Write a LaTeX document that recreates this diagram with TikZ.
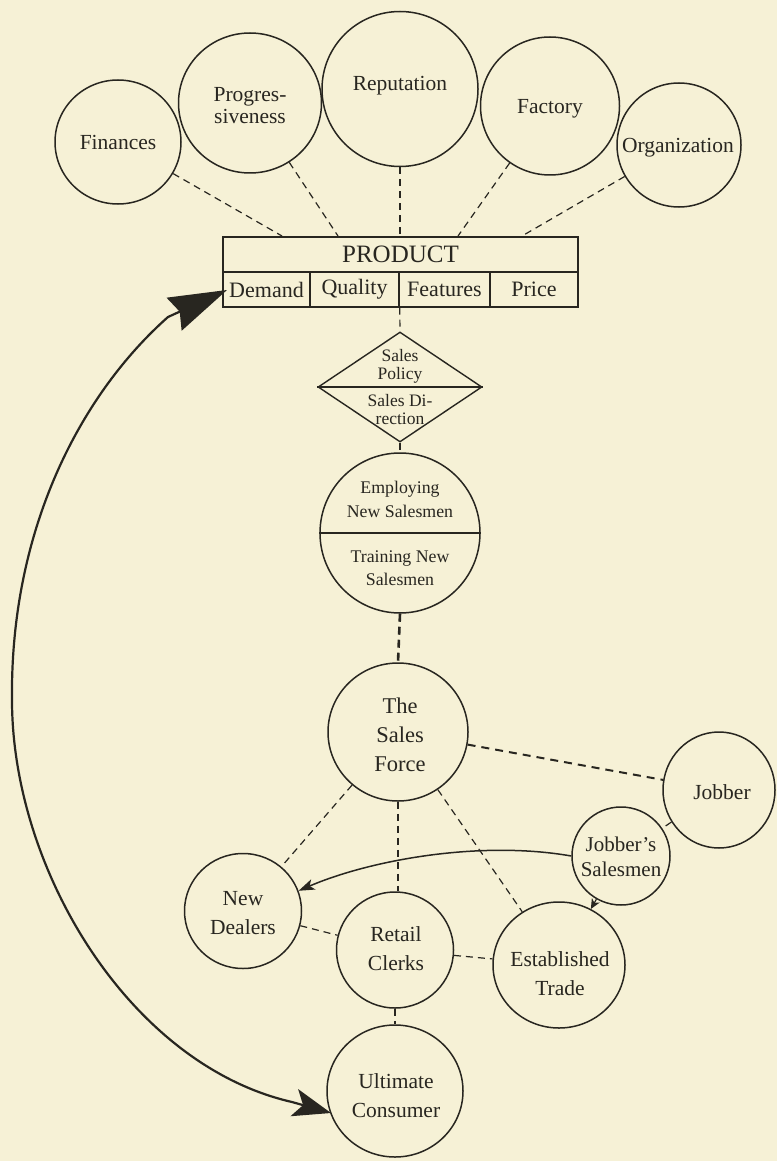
\documentclass[tikz,border=0pt]{standalone}
\usepackage{fontspec}
\setmainfont{Liberation Serif}
\usetikzlibrary{shapes.geometric,arrows.meta}
\definecolor{bgc}{RGB}{246,241,214}
\definecolor{ink}{RGB}{40,38,32}
\begin{document}
\begin{tikzpicture}[x=1pt,y=-1pt,
  every node/.style={text=ink},
  circ/.style={ellipse,draw=ink,line width=1.5pt,inner sep=0pt},
  txt/.style={inner sep=0pt,align=center,font=\fontsize{21.5pt}{29pt}\selectfont},
  cell/.style={rectangle,draw=ink,line width=1.4pt,inner sep=0pt,minimum height=35pt,font=\fontsize{22pt}{26pt}\selectfont},
  dsh/.style={draw=ink,line width=1.2pt,dash pattern=on 7pt off 5pt},
  thickdsh/.style={draw=ink,line width=2.6pt,dash pattern=on 8pt off 5pt},
  arc/.style={draw=ink,line width=1.5pt}]

\fill[bgc] (0,0) rectangle (777,1161);
\useasboundingbox (0,0) rectangle (777,1161);

% top circles
\node[circ,minimum width=126pt,minimum height=124pt] (fin) at (118,142) {};
\node[txt] (fint) at (fin) {Finances};
\node[circ,minimum width=143pt,minimum height=140pt] (prog) at (250,103) {};
\node[txt,font=\fontsize{21.5pt}{22pt}\selectfont] (progt) at (250,106) {Progres-\\siveness};
\node[circ,minimum width=156pt,minimum height=155pt] (rep) at (400,89) {};
\node[txt] (rept) at (400,86) {Reputation};
\node[circ,minimum width=139pt,minimum height=138pt] (fac) at (550,106) {};
\node[txt] (fact) at (550,109) {Factory};
\node[circ,minimum width=124pt,minimum height=124pt] (org) at (679,145) {};
\node[txt] (orgt) at (678,148) {Organization};

% product box
\node[cell,minimum width=355pt,font=\fontsize{25pt}{28pt}\selectfont] (prod) at (400.5,254.5) {PRODUCT};
\node[cell,minimum width=87pt] (dem) at (266.5,289.5) {Demand};
\node[cell,minimum width=89pt] (qual) at (354.5,289.5) {Quality};
\node[cell,minimum width=91pt] (feat) at (444.5,289.5) {Features};
\node[cell,minimum width=88pt] (price) at (534,289.5) {Price};

\coordinate (t1) at (282,236);
\coordinate (t2) at (338,236);
\coordinate (t3) at (400,236);
\coordinate (t4) at (458,236);
\coordinate (t5) at (522,236);
\draw[dsh] (fin) -- (t1);
\draw[dsh] (prog) -- (t2);
\draw[dsh] (rep) -- (t3);
\draw[dsh] (fac) -- (t4);
\draw[dsh] (org) -- (t5);

% diamond
\node[diamond,draw=ink,line width=1.4pt,minimum width=164pt,minimum height=110pt,inner sep=0pt] (dia) at (400,387) {};
\draw[ink,line width=1.2pt] (dia.west) -- (dia.east);
\node[txt,font=\fontsize{17.5pt}{18pt}\selectfont] (diat1) at (400,366) {Sales\\Policy};
\node[txt,font=\fontsize{17.5pt}{18pt}\selectfont] (diat2) at (400,410) {Sales Di-\\rection};
\draw[dsh] (qual.south east) -- (dia.north);

% split circle
\node[circ,minimum size=160pt] (emp) at (400,533) {};
\draw[ink,line width=1.5pt] (emp.west) -- (emp.east);
\node[txt,font=\fontsize{17.8pt}{24pt}\selectfont] (empt1) at (400,499) {Employing\\New Salesmen};
\node[txt,font=\fontsize{17.8pt}{23pt}\selectfont] (empt2) at (400,568) {Training New\\Salesmen};
\draw[dsh] (dia.south) -- (emp.north);

% sales force and below
\node[circ,minimum width=140pt,minimum height=138pt] (sf) at (398,732) {};
\node[txt,font=\fontsize{22.5pt}{29pt}\selectfont] (sft) at (400,735) {The\\Sales\\Force};
\draw[thickdsh] (emp.south) -- (sf.north);

\node[circ,minimum width=117pt,minimum height=115pt] (nd) at (243,911) {};
\node[txt] (ndt) at (243,913) {New\\Dealers};
\node[circ,minimum width=117pt,minimum height=116pt] (rc) at (395,950) {};
\node[txt] (rct) at (396,949) {Retail\\Clerks};
\node[circ,minimum width=136pt,minimum height=132pt] (uc) at (395,1091) {};
\node[txt] (uct) at (396,1096) {Ultimate\\Consumer};
\node[circ,minimum width=112pt,minimum height=116pt] (job) at (719,790) {};
\node[txt] (jobt) at (722,792) {Jobber};
\node[circ,minimum width=98pt,minimum height=98pt] (js) at (621,856) {};
\node[txt,font=\fontsize{21pt}{25pt}\selectfont] (jst) at (621,857) {Jobber's\\Salesmen};
\node[circ,minimum width=132pt,minimum height=126pt] (et) at (559,965) {};
\node[txt] (ett) at (560,974) {Established\\Trade};

\draw[dsh] (sf) -- (nd);
\draw[dsh] (sf.south) -- (sf.south |- rc.north);
\draw[dsh] (sf) -- (et);
\draw[draw=ink,line width=2pt,dash pattern=on 8pt off 6pt] (sf) -- (job);
\draw[dsh] (job) -- (js);
\draw[dsh] (nd) -- (rc);
\draw[dsh] (rc) -- (et);
\draw[dsh] (rc) -- (uc);

\draw[arc,-{Stealth[length=16pt,width=11pt,inset=4pt]}] (js.west) .. controls (480,840) and (370,860) .. (nd.20);
\draw[ink,line width=1.2pt,-{Stealth[length=10pt,width=9pt,inset=3pt]}] (js) -- (et);

% big return arc
\coordinate (dtip) at (227,290);
\coordinate (dtail) at (168,317);
\coordinate (arcL) at (12,700);
\coordinate (utail) at (292,1102);
\coordinate (utip) at (331,1113);
\draw[ink,line width=2.2pt,{Stealth[length=58pt,width=36pt,inset=6pt]}-{Stealth[length=38pt,width=28pt,inset=9pt]}]
  (dtip) -- (dtail) .. controls (80,395) and (10,530) .. (arcL)
  .. controls (12,870) and (130,1065) .. (utail) -- (utip);
\end{tikzpicture}
\end{document}
